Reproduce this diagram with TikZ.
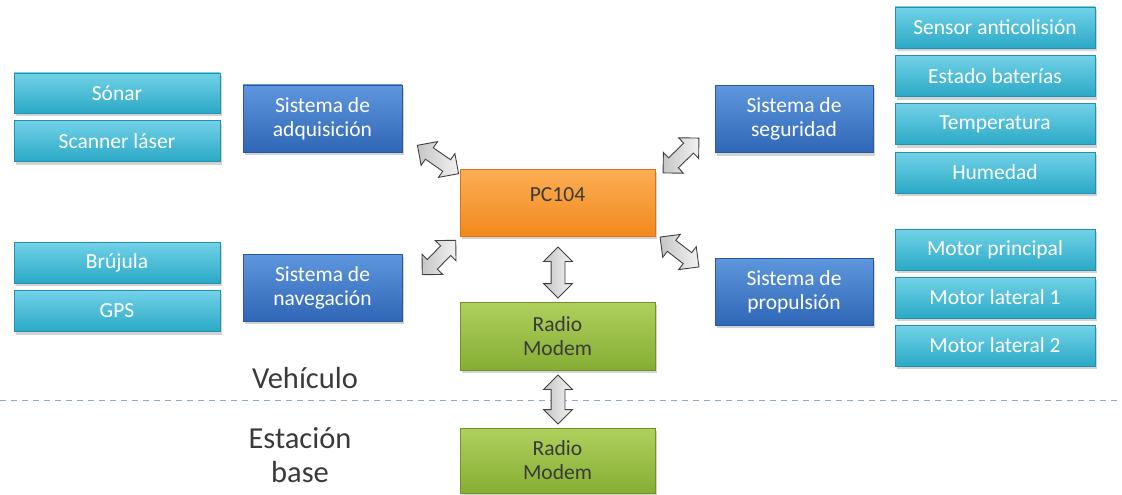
\documentclass[tikz,border=0pt]{standalone}
\usepackage{fontspec}
\setmainfont{Carlito}
\usetikzlibrary{shapes.arrows,shadows}
\definecolor{cyantop}{HTML}{72D2E8}
\definecolor{cyanbot}{HTML}{2BA9C6}
\definecolor{cyanbrd}{HTML}{2390AC}
\definecolor{bluetop}{HTML}{5E97DE}
\definecolor{bluebot}{HTML}{2F66B6}
\definecolor{bluebrd}{HTML}{2A589C}
\definecolor{ortop}{HTML}{FBAE55}
\definecolor{orbot}{HTML}{F2891C}
\definecolor{orbrd}{HTML}{D8741A}
\definecolor{grtop}{HTML}{AFD05E}
\definecolor{grbot}{HTML}{86AE33}
\definecolor{grbrd}{HTML}{6E9429}
\definecolor{dashc}{HTML}{8FA9CC}
\definecolor{txtdark}{HTML}{3A3A3A}
\tikzset{
  basebox/.style={rectangle, inner sep=0pt, align=center, font=\fontsize{21.5}{24}\selectfont,
     drop shadow={shadow xshift=2pt, shadow yshift=-3pt, opacity=0.35}, line width=0.8pt},
  cyanbox/.style={basebox, top color=cyantop, bottom color=cyanbot, draw=cyanbrd, text=white,
     minimum width=206pt, minimum height=41pt},
  bluebox/.style={basebox, top color=bluetop, bottom color=bluebot, draw=bluebrd, text=white,
     minimum width=159pt, minimum height=67pt},
  orangebox/.style={basebox, top color=ortop, bottom color=orbot, draw=orbrd, text=txtdark,
     minimum width=195pt, minimum height=67pt},
  greenbox/.style={basebox, top color=grtop, bottom color=grbot, draw=grbrd, text=txtdark,
     minimum width=195pt, minimum height=66pt},
  dblarrow/.style={double arrow, draw=black!75, line width=0.9pt, left color=gray!45, right color=gray!10,
     inner xsep=0pt, inner ysep=6.5pt, minimum width=0pt, double arrow head extend=7.5pt, sloped, midway},
  zonelabel/.style={font=\fontsize{30.5}{34}\selectfont, text=txtdark, align=center},
}
\begin{document}
\begin{tikzpicture}[x=1pt,y=-1pt]
\useasboundingbox (0,0) rectangle (1122,495);
% left sensors
\node[cyanbox, minimum height=40pt] (sonar) at (117,93) {Sónar};
\node[cyanbox] (scanner) at (117,141) {Scanner láser};
\node[cyanbox] (brujula) at (117,262.5) {Brújula};
\node[cyanbox] (gps) at (117,311) {GPS};
% subsystems
\node[bluebox] (adq) at (322.5,118.5) {Sistema de\\adquisición};
\node[bluebox] (nav) at (322.5,287.5) {Sistema de\\navegación};
\node[bluebox, minimum width=158pt] (seg) at (794,119) {Sistema de\\seguridad};
\node[bluebox, minimum width=158pt] (prop) at (794,291.5) {Sistema de\\propulsión};
% centre
\node[orangebox] (pc) at (557.5,202.5) {\raisebox{16pt}{PC104}};
\node[greenbox, minimum height=68pt] (rm1) at (557.5,336) {Radio\\Modem};
\node[greenbox, minimum height=65pt] (rm2) at (557.5,460.5) {Radio\\Modem};
% right sensors
\node[cyanbox, minimum width=200pt] (sensor) at (995,27.5) {Sensor anticolisión};
\node[cyanbox, minimum width=200pt] (estado) at (995,76) {Estado baterías};
\node[cyanbox, minimum width=200pt] (temp) at (995,124) {Temperatura};
\node[cyanbox, minimum width=200pt] (hum) at (995,172.5) {Humedad};
\node[cyanbox, minimum width=200pt] (mprin) at (995,249.5) {Motor principal};
\node[cyanbox, minimum width=200pt] (mlat1) at (995,297.5) {Motor lateral 1};
\node[cyanbox, minimum width=200pt] (mlat2) at (995,345.5) {Motor lateral 2};
% zone labels and separator
\node[zonelabel] (veh) at (305,378) {Vehículo};
\node[zonelabel] (est) at (300,455) {Estación\\base};
\coordinate (sepL) at (0,400);
\coordinate (sepR) at (1122,400);
\draw[dashc, line width=1pt, dash pattern=on 6pt off 5pt] (sepL) -- (sepR);
% arrow end points
\coordinate (a1s) at (417,145); \coordinate (a1e) at (459,174);
\coordinate (a2s) at (663,173); \coordinate (a2e) at (699,138);
\coordinate (a3s) at (422,275); \coordinate (a3e) at (456,240);
\coordinate (a4s) at (660,237); \coordinate (a4e) at (699,267);
\coordinate (a5s) at (558,247); \coordinate (a5e) at (558,298);
\coordinate (a6s) at (558,375); \coordinate (a6e) at (558,424);
\path (a1s) -- (a1e) node[dblarrow, minimum height=50pt] {};
\path (a2s) -- (a2e) node[dblarrow, minimum height=50pt] {};
\path (a3s) -- (a3e) node[dblarrow, minimum height=48pt] {};
\path (a4s) -- (a4e) node[dblarrow, minimum height=49pt] {};
\path (a5s) -- (a5e) node[dblarrow, minimum height=51pt] {};
\path (a6s) -- (a6e) node[dblarrow, minimum height=49pt] {};
\end{tikzpicture}
\end{document}
